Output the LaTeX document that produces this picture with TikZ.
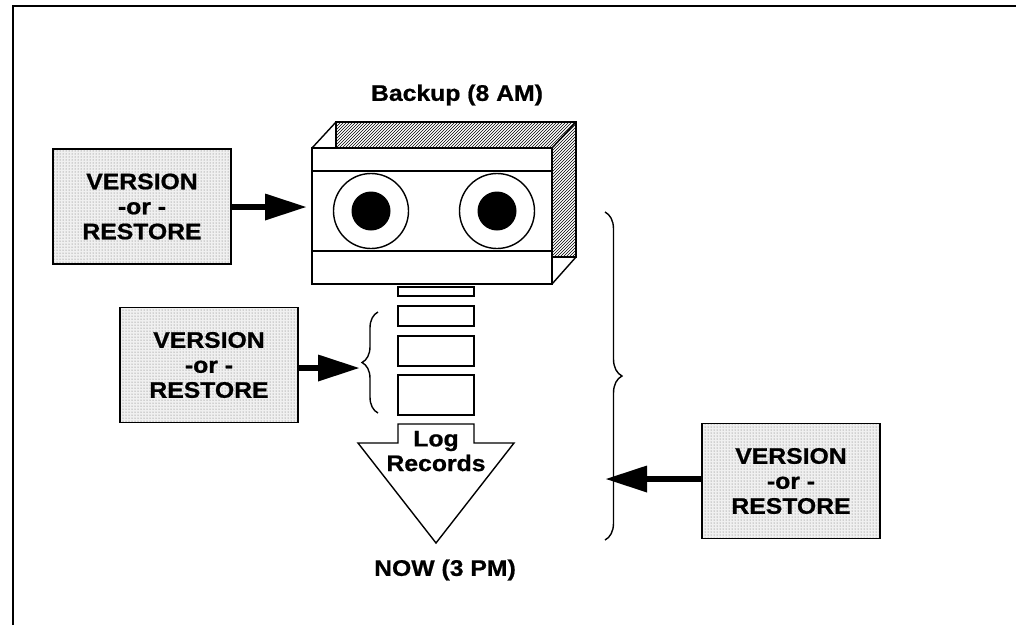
\documentclass[tikz,border=0pt]{standalone}
\usepackage{fontspec}
\setmainfont{Liberation Sans}[FakeStretch=1.1, BoldFeatures={FakeBold=0.8}]
\usetikzlibrary{arrows.meta,patterns,decorations.pathreplacing}
\begin{document}
\begin{tikzpicture}[x=1pt,y=-1pt,
  lbl/.style={font=\fontsize{22.5}{25}\selectfont\bfseries, align=center, inner sep=0pt},
  vbox/.style={lbl, draw, line width=1.5pt, minimum width=178pt, minimum height=115pt,
    preaction={fill=gray!12}, pattern=dots, pattern color=black!60},
  thin/.style={line width=1.4pt},
  bigarrow/.style={line width=6.5pt, -{Triangle[length=42pt,width=25pt]}},
  bracedeco/.style={thin, decorate, decoration={brace, amplitude=#1}}
]
\useasboundingbox (0,0) rectangle (1016,625);

% frame
\draw[line width=2.2pt] (13,625) -- (13,6) -- (1016,6);

% cassette: hatched back, corner edges, white front
\fill[pattern=north east lines] (336,122) rectangle (576,257);
\draw[thin] (336,122) rectangle (576,257);
\draw[thin] (312,148) -- (336,122);
\draw[thin] (552,148) -- (576,122);
\draw[thin] (552,284) -- (576,257);
\node[thin, draw, fill=white, minimum width=240pt, minimum height=136pt, inner sep=0pt] (tape) at (432,216) {};
\draw[thin] (312,171) -- (552,171);
\draw[thin] (312,251) -- (552,251);
\node[thin, draw, fill=white, circle, minimum size=75pt, inner sep=0pt] (reelL) at (371,211) {};
\node[thin, draw, fill=white, circle, minimum size=75pt, inner sep=0pt] (reelR) at (497,211) {};
\fill (reelL) circle (19.5pt);
\fill (reelR) circle (19.5pt);

\node[lbl] (backup) at (457,95) {Backup (8 AM)};

% log record blocks
\draw[thin] (398,287) rectangle (474,296);
\draw[thin] (398,306) rectangle (474,326);
\draw[thin] (398,336) rectangle (474,366);
\draw[thin] (398,375) rectangle (474,415);

% log records arrow
\draw[thin, fill=white] (398,424) -- (474,424) -- (474,443) -- (514,443) -- (436,543)
  -- (358,443) -- (398,443) -- cycle;
\node[lbl] (log) at (436,441) {Log};
\node[lbl] (records) at (436,463) {Records};

\node[lbl] (now) at (445,570) {NOW (3 PM)};

% braces
\draw[bracedeco=16pt] (378,413) -- (378,312);
\draw[bracedeco=17pt] (605,212) -- (605,540);

% version / restore boxes
\node[vbox] (v1) at (142,206.5) {VERSION\\-or -\\RESTORE};
\node[vbox] (v2) at (209,365) {VERSION\\-or -\\RESTORE};
\node[vbox] (v3) at (791,481) {VERSION\\-or -\\RESTORE};

\coordinate (t1) at (307,207);
\coordinate (t2) at (360,368);
\coordinate (t3) at (605,479);
\draw[bigarrow] (v1.east |- t1) -- (t1);
\draw[bigarrow] (v2.east |- t2) -- (t2);
\draw[bigarrow] (v3.west |- t3) -- (t3);
\end{tikzpicture}
\end{document}
